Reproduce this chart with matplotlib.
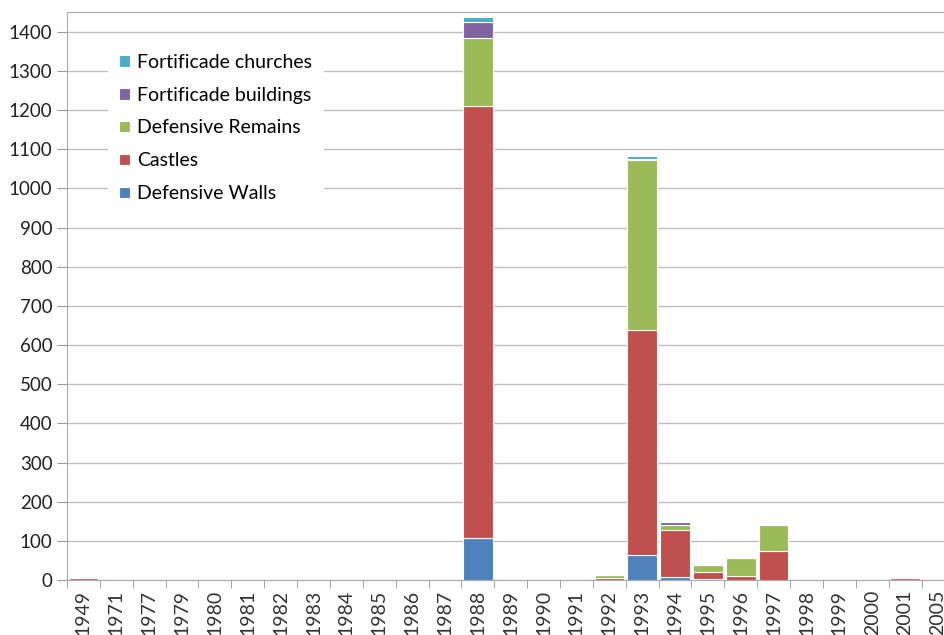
import numpy as np
import matplotlib.pyplot as plt

plt.rcParams['font.family'] = ['Lato', 'DejaVu Sans']

years = ['1949', '1971', '1977', '1979', '1980', '1981', '1982', '1983', '1984',
         '1985', '1986', '1987', '1988', '1989', '1990', '1991', '1992', '1993',
         '1994', '1995', '1996', '1997', '1998', '1999', '2000', '2001', '2005']

defensive_walls = [0, 0, 0, 0, 0, 0, 0, 0, 0, 0, 0, 0, 108, 0, 0, 0, 1, 64,
                   8, 2, 1, 1, 0, 0, 0, 0, 0]
castles = [5, 0, 0, 0, 0, 0, 0, 0, 0, 0, 0, 0, 1102, 0, 0, 0, 5, 574,
           120, 18, 10, 73, 1, 0, 0, 5, 0]
defensive_remains = [0, 0, 0, 0, 0, 0, 0, 0, 0, 0, 0, 0, 175, 0, 0, 0, 6, 435,
                     12, 18, 45, 66, 0, 0, 0, 0, 0]
fort_buildings = [0, 0, 0, 0, 0, 0, 0, 0, 0, 0, 0, 0, 40, 0, 0, 0, 0, 2,
                  8, 0, 0, 0, 0, 0, 0, 0, 0]
fort_churches = [0, 0, 0, 0, 0, 0, 0, 0, 0, 0, 0, 0, 13, 0, 0, 0, 0, 9,
                 1, 0, 0, 0, 0, 0, 0, 0, 0]

series = [
    ('Defensive Walls', defensive_walls, '#4F81BD'),
    ('Castles', castles, '#C0504D'),
    ('Defensive Remains', defensive_remains, '#9BBB59'),
    ('Fortificade buildings', fort_buildings, '#8064A2'),
    ('Fortificade churches', fort_churches, '#4BACC6'),
]

fig = plt.figure(figsize=(9.44, 6.35), dpi=100)
ax = fig.add_axes([0.071, 0.0866, 0.94, 0.894])

x = np.arange(len(years))
bottom = np.zeros(len(years))
handles = []
for name, vals, col in series:
    vals = np.array(vals, dtype=float)
    h = ax.bar(x, vals, width=0.9, bottom=bottom, color=col,
               edgecolor='white', linewidth=0.8, label=name, zorder=3)
    handles.append(h)
    bottom += vals

ax.set_xlim(-0.5, len(years) - 0.5)
ax.set_ylim(0, 1450)
ax.set_yticks(range(0, 1401, 100))
ax.set_xticks(x)
ax.set_xticklabels(years, rotation=90, fontsize=14, color='#333333')
ax.set_xticks(np.arange(-0.5, len(years), 1), minor=True)
ax.tick_params(axis='x', which='major', length=0, pad=7)
ax.tick_params(axis='x', which='minor', length=6, color='#999999')
ax.tick_params(axis='y', length=7, color='#999999', labelsize=13.5,
               labelcolor='#222222')

ax.grid(axis='y', color='#c0c0c0', linewidth=1.0, zorder=0)
for s in ['left', 'bottom', 'top']:
    ax.spines[s].set_color('#aaaaaa')
ax.spines['right'].set_visible(False)

leg = ax.legend(handles[::-1], [s[0] for s in series][::-1],
                loc='upper left', bbox_to_anchor=(0.035, 0.965),
                frameon=True, fontsize=14, handlelength=0.55,
                handleheight=0.55, handletextpad=0.35, labelspacing=0.82,
                borderpad=0.6)
leg.get_frame().set_edgecolor('none')
leg.get_frame().set_facecolor('white')
leg.get_frame().set_alpha(1.0)
leg.set_zorder(5)

fig.savefig('out.png', dpi=100)
